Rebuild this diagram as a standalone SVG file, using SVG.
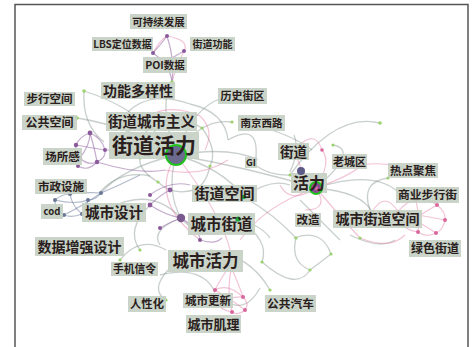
<svg xmlns="http://www.w3.org/2000/svg" width="476" height="347" viewBox="0 0 476 347">
<style>
.lb rect{fill:#c6d0c3;opacity:.92}
.lb text{fill:#2b1e1e;font-family:"Noto Sans CJK SC","Noto Sans",sans-serif;font-weight:700;text-anchor:middle}
.g{fill:none;stroke:#7d8d87;stroke-width:1.3;opacity:.42}
.p{fill:none;stroke:#e27aa6;stroke-width:1.2;opacity:.45}
.v{fill:none;stroke:#8b5c9e;stroke-width:1.2;opacity:.5}
.b{fill:none;stroke:#66779a;stroke-width:1.2;opacity:.5}
.dg{fill:#9ad36c}
.dv{fill:#8a5a9a}
.dp{fill:#d8679c}
.db{fill:#6a7896}
</style>
<rect width="476" height="347" fill="#fff"/>
<path d="M15,347 V4.5 H468 V347" fill="none" stroke="#555" stroke-width="1.5"/>
<g id="connectors">
<path class="g" d="M176,155 Q140,108 84,91"/>
<path class="g" d="M84,91 Q82,125 104,142"/>
<path class="g" d="M176,155 Q158,104 172,82"/>
<path class="g" d="M176,155 Q200,118 232,122"/>
<path class="g" d="M176,155 Q230,146 258,160"/>
<path class="g" d="M176,155 Q250,168 316,188"/>
<path class="g" d="M176,155 Q166,192 181,218"/>
<path class="g" d="M176,155 Q222,168 244,197"/>
<path class="g" d="M176,155 Q122,168 101,193"/>
<path class="g" d="M176,155 Q192,108 222,98"/>
<path class="g" d="M176,155 Q128,126 77,118"/>
<path class="g" d="M150,128 Q176,112 202,128"/>
<path class="g" d="M202,128 Q218,150 210,166"/>
<path class="g" d="M210,166 Q206,185 194,190"/>
<path class="g" d="M194,190 Q172,196 158,182"/>
<path class="g" d="M158,182 Q138,170 140,158"/>
<path class="g" d="M140,158 Q138,138 150,128"/>
<path class="g" d="M128,112 Q150,90 190,104"/>
<path class="g" d="M190,104 Q225,112 228,140"/>
<path class="g" d="M228,140 Q262,120 255,165"/>
<path class="g" d="M255,165 Q270,176 290,175"/>
<path class="g" d="M290,175 Q335,112 380,123"/>
<path class="g" d="M272,130 Q300,140 312,150"/>
<path class="g" d="M294,135 Q300,150 290,172"/>
<path class="g" d="M316,188 Q360,150 333,145"/>
<path class="g" d="M316,188 Q362,192 372,212"/>
<path class="g" d="M316,188 Q378,168 402,196"/>
<path class="g" d="M370,210 Q360,182 388,178"/>
<path class="g" d="M294,238 Q322,228 331,254"/>
<path class="g" d="M331,254 Q318,264 310,270"/>
<path class="g" d="M310,270 Q290,262 296,238"/>
<path class="g" d="M262,262 Q296,292 310,270"/>
<path class="g" d="M244,197 Q275,215 296,238"/>
<path class="g" d="M244,197 Q270,178 290,185"/>
<path class="g" d="M238,219 Q270,240 262,262"/>
<path class="g" d="M181,218 Q210,250 238,219"/>
<path class="g" d="M238,219 Q262,226 270,238"/>
<path class="g" d="M210,250 Q250,255 270,290"/>
<path class="g" d="M225,300 Q245,315 260,288"/>
<path class="g" d="M168,270 Q150,290 166,300"/>
<path class="g" d="M160,275 Q200,265 214,290"/>
<path class="g" d="M166,250 Q140,235 120,260"/>
<path class="g" d="M181,218 Q150,230 160,245"/>
<path class="g" d="M140,250 Q125,230 150,205"/>
<path class="g" d="M106,210 Q150,185 181,218"/>
<path class="g" d="M100,192 Q120,170 150,176"/>
<path class="g" d="M300,200 Q330,230 340,240"/>
<path class="g" d="M350,235 Q380,250 395,240"/>
<path class="p" d="M316,188 Q290,160 300,145"/>
<path class="p" d="M316,188 Q332,162 322,150"/>
<path class="p" d="M316,188 Q350,176 362,165"/>
<path class="p" d="M316,188 Q265,205 240,240"/>
<path class="p" d="M316,188 Q345,222 360,238"/>
<path class="p" d="M300,145 Q315,130 322,150"/>
<path class="p" d="M316,188 Q290,205 280,185"/>
<path class="p" d="M316,188 Q330,210 305,210"/>
<path class="p" d="M360,165 Q395,160 420,175"/>
<path class="p" d="M360,238 Q390,250 405,235"/>
<path class="p" d="M176,155 Q148,200 200,240"/>
<path class="p" d="M176,155 Q232,228 232,265"/>
<path class="p" d="M130,130 Q160,98 200,116"/>
<path class="p" d="M200,116 Q215,130 205,150"/>
<path class="p" d="M165,170 Q200,178 228,160"/>
<path class="p" d="M230,265 Q220,280 215,290"/>
<path class="p" d="M230,265 Q238,282 243,297"/>
<path class="p" d="M232,265 Q226,290 232,312"/>
<path class="p" d="M215,290 Q228,283 243,297"/>
<path class="p" d="M243,297 Q250,304 245,310"/>
<path class="p" d="M245,310 Q238,316 232,312"/>
<path class="p" d="M232,312 Q220,310 218,303"/>
<path class="p" d="M218,303 Q212,296 215,290"/>
<path class="p" d="M215,290 Q232,300 245,310"/>
<path class="p" d="M218,303 Q232,296 243,297"/>
<path class="p" d="M398,212 Q405,202 416,200"/>
<path class="p" d="M416,200 Q428,198 437,205"/>
<path class="p" d="M437,205 Q446,212 445,220"/>
<path class="p" d="M445,220 Q443,230 436,233"/>
<path class="p" d="M436,233 Q426,238 418,232"/>
<path class="p" d="M418,232 Q406,230 404,225"/>
<path class="p" d="M404,225 Q398,220 398,212"/>
<path class="p" d="M398,212 Q420,215 445,220"/>
<path class="p" d="M416,200 Q420,220 418,232"/>
<path class="p" d="M437,205 Q420,215 404,225"/>
<path class="p" d="M398,212 Q420,222 436,233"/>
<path class="p" d="M372,212 Q385,190 398,212"/>
<path class="p" d="M167,36 Q190,40 184,51"/>
<path class="p" d="M184,51 Q175,70 172,82"/>
<path class="p" d="M153,53 Q160,40 167,36"/>
<path class="v" d="M167,36 Q158,48 153,53"/>
<path class="v" d="M153,53 Q170,65 172,82"/>
<path class="v" d="M167,36 Q175,60 172,82"/>
<path class="v" d="M161,64 Q172,58 184,51"/>
<path class="v" d="M90,133 Q80,136 76,145"/>
<path class="v" d="M76,145 Q74,152 80,158"/>
<path class="v" d="M80,158 Q88,166 97,162"/>
<path class="v" d="M97,162 Q106,158 105,150"/>
<path class="v" d="M105,150 Q102,138 90,133"/>
<path class="v" d="M90,133 Q95,150 97,162"/>
<path class="v" d="M76,145 Q92,148 105,150"/>
<path class="v" d="M80,158 Q90,145 90,133"/>
<path class="v" d="M78,166 Q88,172 97,162"/>
<path class="v" d="M105,150 Q140,150 176,155"/>
<path class="v" d="M97,162 Q140,175 165,170"/>
<path class="v" d="M150,205 Q160,195 170,190"/>
<path class="v" d="M150,205 Q165,215 181,218"/>
<path class="v" d="M160,228 Q170,222 181,218"/>
<path class="v" d="M181,218 Q200,230 200,240"/>
<path class="v" d="M200,240 Q215,245 222,238"/>
<path class="v" d="M150,195 Q170,180 190,185"/>
<path class="b" d="M55,200 Q62,194 70,194"/>
<path class="b" d="M70,194 Q86,192 101,193"/>
<path class="b" d="M101,193 Q96,200 88,200"/>
<path class="b" d="M88,200 Q86,210 82,214"/>
<path class="b" d="M82,214 Q72,218 64,215"/>
<path class="b" d="M64,215 Q54,210 55,200"/>
<path class="b" d="M55,200 Q75,205 88,200"/>
<path class="b" d="M70,194 Q72,206 82,214"/>
<path class="b" d="M64,215 Q84,205 101,193"/>
<path class="b" d="M101,193 Q120,185 140,175"/>
</g>
<g id="dots">
<circle class="dg" cx="84" cy="91" r="1.8"/>
<circle class="dg" cx="77" cy="118" r="1.8"/>
<circle class="dg" cx="172" cy="82" r="1.8"/>
<circle class="dg" cx="232" cy="122" r="1.6"/>
<circle class="dg" cx="255" cy="165" r="1.6"/>
<circle class="dg" cx="290" cy="175" r="1.6"/>
<circle class="dg" cx="380" cy="123" r="1.8"/>
<circle class="dg" cx="296" cy="238" r="1.6"/>
<circle class="dg" cx="331" cy="254" r="1.6"/>
<circle class="dg" cx="310" cy="270" r="1.6"/>
<circle class="dg" cx="262" cy="262" r="1.6"/>
<circle class="dg" cx="270" cy="290" r="1.6"/>
<circle class="dg" cx="166" cy="300" r="1.6"/>
<circle class="dg" cx="150" cy="128" r="1.6"/>
<circle class="dg" cx="202" cy="128" r="1.6"/>
<circle class="dg" cx="210" cy="166" r="1.6"/>
<circle class="dg" cx="158" cy="182" r="1.6"/>
<circle class="dg" cx="140" cy="158" r="1.6"/>
<circle class="dg" cx="372" cy="212" r="1.6"/>
<circle class="dg" cx="388" cy="178" r="1.6"/>
<circle class="dg" cx="360" cy="238" r="1.6"/>
<circle class="dg" cx="140" cy="250" r="1.6"/>
<circle class="dg" cx="120" cy="260" r="1.6"/>
<circle class="dg" cx="106" cy="210" r="1.6"/>
<circle class="dg" cx="333" cy="145" r="1.6"/>
<circle class="dg" cx="300" cy="145" r="1.6"/>
<circle class="dp" cx="322" cy="150" r="1.8"/>
<circle class="dp" cx="362" cy="165" r="1.8"/>
<circle class="dp" cx="398" cy="212" r="2.2"/>
<circle class="dp" cx="416" cy="200" r="2"/>
<circle class="dp" cx="437" cy="205" r="2"/>
<circle class="dp" cx="445" cy="220" r="2"/>
<circle class="dp" cx="436" cy="233" r="2"/>
<circle class="dp" cx="418" cy="232" r="2"/>
<circle class="dp" cx="404" cy="225" r="2"/>
<circle class="dp" cx="215" cy="290" r="2"/>
<circle class="dp" cx="243" cy="297" r="2"/>
<circle class="dp" cx="245" cy="310" r="2"/>
<circle class="dp" cx="232" cy="312" r="2"/>
<circle class="dp" cx="218" cy="303" r="2"/>
<circle class="dv" cx="167" cy="36" r="2"/>
<circle class="dv" cx="184" cy="51" r="2"/>
<circle class="dv" cx="153" cy="53" r="2"/>
<circle class="dv" cx="161" cy="64" r="1.8"/>
<circle class="dv" cx="90" cy="133" r="2.4"/>
<circle class="dv" cx="76" cy="145" r="2.2"/>
<circle class="dv" cx="80" cy="158" r="2.2"/>
<circle class="dv" cx="97" cy="162" r="2.2"/>
<circle class="dv" cx="105" cy="150" r="2"/>
<circle class="dv" cx="78" cy="166" r="2"/>
<circle class="dv" cx="150" cy="205" r="2.4"/>
<circle class="dv" cx="170" cy="190" r="2.4"/>
<circle class="dv" cx="160" cy="228" r="2"/>
<circle class="dv" cx="200" cy="240" r="2"/>
<circle class="dv" cx="150" cy="195" r="2"/>
<circle class="db" cx="55" cy="200" r="2"/>
<circle class="db" cx="70" cy="194" r="2"/>
<circle class="db" cx="101" cy="193" r="2"/>
<circle class="db" cx="88" cy="200" r="2"/>
<circle class="db" cx="64" cy="215" r="2"/>
<circle class="db" cx="82" cy="214" r="2"/>
<circle class="db" cx="130" cy="128" r="2"/>
</g>
<g id="n-jddhl" class="lb"><rect x="109" y="132" width="90" height="27"/><circle cx="176" cy="155" r="10" fill="#6c6a8e" stroke="#1fc21f" stroke-width="2"/><text x="154" y="153" font-size="21">街道活力</text></g>
<g id="n-kcxfz" class="lb"><rect x="130" y="14" width="57" height="15"/><text x="158.5" y="25.5" font-size="10.5">可持续发展</text></g>
<g id="n-lbs" class="lb"><rect x="92" y="37" width="61" height="14"/><text x="122.5" y="47.8" font-size="10">LBS定位数据</text></g>
<g id="n-jdgn" class="lb"><rect x="190" y="37" width="45" height="14"/><text x="212.5" y="47.8" font-size="10">街道功能</text></g>
<g id="n-poi" class="lb"><rect x="143" y="57" width="44" height="16"/><text x="165" y="69" font-size="10.5">POI数据</text></g>
<g id="n-gndyx" class="lb"><rect x="101" y="82" width="74" height="17"/><text x="138" y="95.5" font-size="14">功能多样性</text></g>
<g id="n-bxkj" class="lb"><rect x="24" y="92" width="51" height="14"/><text x="49.5" y="103.2" font-size="11.5">步行空间</text></g>
<g id="n-ggkj" class="lb"><rect x="22" y="115" width="55" height="15"/><text x="49.5" y="126.8" font-size="12">公共空间</text></g>
<g id="n-lsjq" class="lb"><rect x="218" y="88" width="49" height="16"/><text x="242.5" y="100" font-size="11">历史街区</text></g>
<g id="n-jdcszy" class="lb"><rect x="106" y="112" width="91" height="19"/><text x="151.5" y="126.8" font-size="14.5">街道城市主义</text></g>
<g id="n-csg" class="lb"><rect x="43" y="148" width="39" height="17"/><text x="62.5" y="160.5" font-size="11.5">场所感</text></g>
<g id="n-njxl" class="lb"><rect x="238" y="115" width="47" height="16"/><text x="261.5" y="127" font-size="10.5">南京西路</text></g>
<g id="n-jd" class="lb"><rect x="278" y="143" width="31" height="17"/><text x="293.5" y="156.5" font-size="13.5">街道</text></g>
<g id="n-gi" class="lb"><rect x="245" y="157" width="12" height="11"/><text x="251" y="166" font-size="9.5">GI</text></g>
<g id="n-lcq" class="lb"><rect x="332" y="154" width="35" height="15"/><text x="349.5" y="165.5" font-size="11">老城区</text></g>
<g id="n-rdjj" class="lb"><rect x="388" y="163" width="50" height="15"/><text x="413" y="174.8" font-size="11.5">热点聚焦</text></g>
<g id="n-hl" class="lb"><rect x="291" y="173" width="36" height="20"/><circle cx="301" cy="171" r="4" fill="#5c5a86"/><circle cx="316" cy="188" r="6" fill="#8a4a8e" stroke="#1fc21f" stroke-width="2"/><circle cx="316" cy="188" r="2" fill="#d8679c"/><text x="309" y="189" font-size="16">活力</text></g>
<g id="n-jdkj" class="lb"><rect x="192" y="185" width="65" height="17"/><circle cx="244" cy="197" r="2.2" fill="#1fa83a"/><text x="224.5" y="199" font-size="15">街道空间</text></g>
<g id="n-szss" class="lb"><rect x="35" y="179" width="52" height="15"/><text x="61" y="190.5" font-size="11.5">市政设施</text></g>
<g id="n-cod" class="lb"><rect x="41" y="204" width="22" height="15"/><text x="52" y="215" font-size="9.5">cod</text></g>
<g id="n-cssj" class="lb"><rect x="82" y="203" width="64" height="19"/><text x="114" y="217.7" font-size="14.5">城市设计</text></g>
<g id="n-csjd" class="lb"><rect x="188" y="213" width="67" height="22"/><circle cx="181" cy="218" r="4.2" fill="#7a5a8e"/><circle cx="238" cy="219" r="2.6" fill="#1fa83a"/><text x="221.5" y="229.8" font-size="15.5">城市街道</text></g>
<g id="n-gz" class="lb"><rect x="295" y="213" width="26" height="14"/><text x="308" y="224" font-size="11.5">改造</text></g>
<g id="n-csjdkj" class="lb"><rect x="333" y="210" width="89" height="18"/><text x="377.5" y="224.2" font-size="14">城市街道空间</text></g>
<g id="n-sybxj" class="lb"><rect x="396" y="187" width="63" height="16"/><text x="427.5" y="199.3" font-size="11.8">商业步行街</text></g>
<g id="n-lsjd" class="lb"><rect x="409" y="240" width="52" height="17"/><text x="435" y="252.5" font-size="12">绿色街道</text></g>
<g id="n-sjzqsj" class="lb"><rect x="35" y="237" width="89" height="19"/><text x="79.5" y="251.5" font-size="14">数据增强设计</text></g>
<g id="n-sjxl" class="lb"><rect x="111" y="262" width="47" height="14"/><text x="134.5" y="273" font-size="10.8">手机信令</text></g>
<g id="n-cshl" class="lb"><rect x="168" y="250" width="75" height="22"/><text x="205.5" y="267" font-size="16.5">城市活力</text></g>
<g id="n-rxh" class="lb"><rect x="128" y="296" width="38" height="16"/><text x="147" y="308" font-size="11.3">人性化</text></g>
<g id="n-csgx" class="lb"><rect x="183" y="293" width="50" height="15"/><text x="208" y="304.8" font-size="11.5">城市更新</text></g>
<g id="n-csjl" class="lb"><rect x="186" y="315" width="55" height="18"/><text x="213.5" y="329" font-size="13">城市肌理</text></g>
<g id="n-ggqc" class="lb"><rect x="265" y="295" width="51" height="17"/><text x="290.5" y="307.5" font-size="11.7">公共汽车</text></g>
</svg>
